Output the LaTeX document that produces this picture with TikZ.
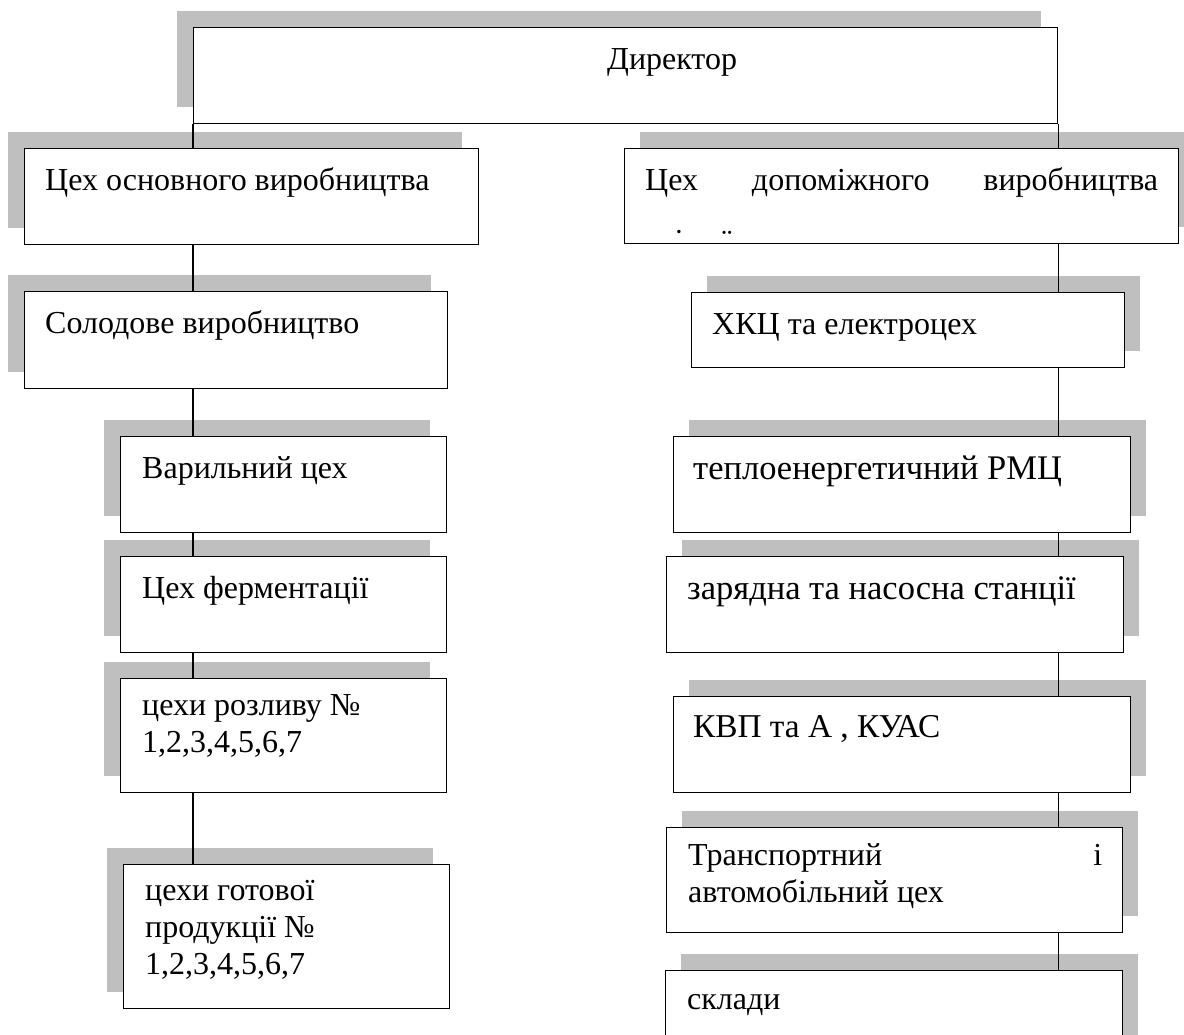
\documentclass[tikz,border=0pt]{standalone}
\usepackage{fontspec}
\setmainfont{Liberation Serif}
\usetikzlibrary{shadows}
\definecolor{shadowgray}{HTML}{BFBFBF}
\newcommand\boxfont{\fontsize{32}{37}\selectfont}
\newcommand\wideboxfont{\fontsize{34.5}{37}\selectfont}

\begin{document}
\begin{tikzpicture}[
        x=1pt, y=-1pt,
        dept/.style={rectangle, draw, line width=1.3pt, fill=white, anchor=north west, inner sep=0pt},
        shadeleft/.style={drop shadow={shadow xshift=-17pt, shadow yshift=17pt, fill=shadowgray, opacity=1}},
        shaderight/.style={drop shadow={shadow xshift=15pt, shadow yshift=17pt, fill=shadowgray, opacity=1}},
        caption/.style={anchor=north west, inner sep=0pt, align=left, font=\boxfont, execute at begin node=\strut},
        crumb/.style={inner sep=0pt, font=\boxfont},
        link/.style={line width=1.3pt}
    ]
        \useasboundingbox (0,0) rectangle (1184,1034);

        \node [dept, shadeleft, minimum width=864pt, minimum height=96pt] (dir) at (193,27) {};
        \node [caption] (dirtext) at ([shift={(414,16)}]dir.north west) {Директор};

        % left branch
        \node [dept, shadeleft, minimum width=454pt, minimum height=96pt] (osn) at (24,148) {};
        \node [caption] (osntext) at ([shift={(21,16)}]osn.north west) {Цех основного виробництва};
        \node [dept, shadeleft, minimum width=423pt, minimum height=97pt] (sol) at (24,291) {};
        \node [caption] (soltext) at ([shift={(21,16)}]sol.north west) {Солодове виробництво};
        \node [dept, shadeleft, minimum width=326pt, minimum height=96pt] (var) at (120,436) {};
        \node [caption] (vartext) at ([shift={(22,16)}]var.north west) {Варильний цех};
        \node [dept, shadeleft, minimum width=326pt, minimum height=96pt] (fer) at (120,556) {};
        \node [caption] (fertext) at ([shift={(22,16)}]fer.north west) {Цех ферментації};
        \node [dept, shadeleft, minimum width=326pt, minimum height=114pt] (roz) at (120,678) {};
        \node [caption] (roztext) at ([shift={(22,16)}]roz.north west) {цехи розливу №\\1,2,3,4,5,6,7};
        \node [dept, shadeleft, minimum width=326pt, minimum height=144pt] (got) at (123,864) {};
        \node [caption] (gottext) at ([shift={(22,16)}]got.north west) {цехи готової\\продукції №\\1,2,3,4,5,6,7};

        % right branch
        \node [dept, shaderight, minimum width=554pt, minimum height=95pt] (dop) at (624,148) {};
        \node [caption] (doptext) at ([shift={(21,16)}]dop.north west) {\makebox[513pt][s]{Цех допоміжного виробництва}};
        \node [crumb] (dopdot1) at (679,241) {˙};
        \node [crumb] (dopdot2) at (727,241) {¨};
        \node [dept, shaderight, minimum width=433pt, minimum height=75pt] (hkc) at (691,292) {};
        \node [caption] (hkctext) at ([shift={(21,16)}]hkc.north west) {ХКЦ та електроцех};
        \node [dept, shaderight, minimum width=457pt, minimum height=96pt] (tep) at (673,436) {};
        \node [caption, font=\wideboxfont] (teptext) at ([shift={(20,17)}]tep.north west) {теплоенергетичний РМЦ};
        \node [dept, shaderight, minimum width=457pt, minimum height=96pt] (zar) at (666,556) {};
        \node [caption, font=\wideboxfont] (zartext) at ([shift={(21,17)}]zar.north west) {зарядна та насосна станції};
        \node [dept, shaderight, minimum width=457pt, minimum height=96pt] (kvp) at (673,696) {};
        \node [caption, font=\fontsize{33.3}{37}\selectfont] (kvptext) at ([shift={(20,15)}]kvp.north west) {КВП та А , КУАС};
        \node [dept, shaderight, minimum width=456pt, minimum height=105pt] (tra) at (666,827) {};
        \node [caption] (tratext) at ([shift={(22,16)}]tra.north west) {\makebox[414pt][s]{Транспортний і}\\автомобільний цех};
        \node [dept, shaderight, minimum width=457pt, minimum height=100pt] (skl) at (665,970) {};
        \node [caption] (skltext) at ([shift={(22,13)}]skl.north west) {склади};

        \draw [link] (dir.south west) -- (dir.south west |- osn.north);
        \draw [link] (osn.south -| dir.south west) -- (sol.north -| dir.south west);
        \draw [link] (sol.south -| dir.south west) -- (var.north -| dir.south west);
        \draw [link] (var.south -| dir.south west) -- (fer.north -| dir.south west);
        \draw [link] (fer.south -| dir.south west) -- (roz.north -| dir.south west);
        \draw [link] (roz.south -| dir.south west) -- (got.north -| dir.south west);

        \draw [link] (dir.south east) -- (dir.south east |- dop.north);
        \draw [link] (dop.south -| dir.south east) -- (hkc.north -| dir.south east);
        \draw [link] (hkc.south -| dir.south east) -- (tep.north -| dir.south east);
        \draw [link] (tep.south -| dir.south east) -- (zar.north -| dir.south east);
        \draw [link] (zar.south -| dir.south east) -- (kvp.north -| dir.south east);
        \draw [link] (kvp.south -| dir.south east) -- (tra.north -| dir.south east);
        \draw [link] (tra.south -| dir.south east) -- (skl.north -| dir.south east);

    \end{tikzpicture}
\end{document}
